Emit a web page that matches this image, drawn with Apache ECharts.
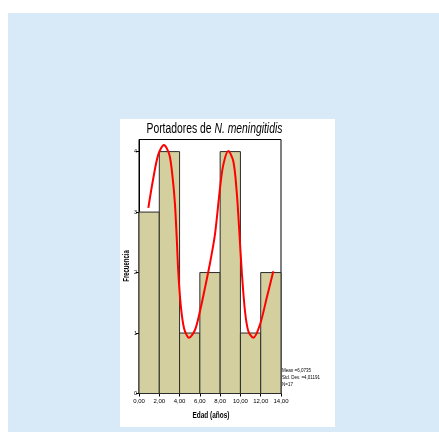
<!DOCTYPE html>
<html>
<head>
<meta charset="utf-8">
<script src="https://cdn.jsdelivr.net/npm/echarts@6/dist/echarts.min.js"></script>
<style>
  html, body { margin: 0; padding: 0; background: #fff; }
  #chart { width: 439px; height: 432px; }
</style>
</head>
<body>
<div id="chart"></div>
<script>
// histogram bins (age in years) and counts
const binStart = [0, 2, 4, 6, 8, 10, 12];
const binEnd = [2, 4, 6, 8, 10, 12, 14];
const counts = [3, 4, 1, 2, 4, 1, 2];

// smoothed red curve
const curveX = [0.92, 1.41, 1.90, 2.46, 2.99, 3.32, 3.55, 3.72, 3.87, 4.11, 4.44, 4.93, 5.52, 6.01, 6.51,
                7.05, 7.49, 7.99, 8.31, 8.80, 9.30, 9.63, 9.89, 10.13, 10.45, 10.78, 11.27, 11.93, 12.59, 13.24];
const curveY = [3.07, 3.56, 3.95, 4.11, 3.95, 3.56, 3.12, 2.57, 2.02, 1.47, 1.08, 0.92, 1.05, 1.36, 1.75,
                2.20, 2.63, 3.40, 3.78, 4.01, 3.84, 3.34, 2.68, 2.02, 1.36, 1.03, 0.92, 1.14, 1.58, 2.02];

const xTickValues = [0, 2, 4, 6, 8, 10, 12, 14];
const xTickLabels = ['0,00', '2,00', '4,00', '6,00', '8,00', '10,00', '12,00', '14,00'];
const yTickLabels = ['0', '1', '2', '3', '4'];

const statsLines = ['Mean =6,0735', 'Std. Dev. =4,01191', 'N=17'];

const chart = echarts.init(document.getElementById('chart'));

const barData = binStart.map((s, i) => [s, binEnd[i], counts[i]]);
const curveData = curveX.map((x, i) => [x, curveY[i]]);

const option = {
    backgroundColor: '#ffffff',
    animation: false,
    graphic: [
        {
            type: 'rect', z: -10, silent: true,
            shape: { x: 8, y: 13, width: 431, height: 419 },
            style: { fill: '#d8e9f8' }
        },
        {
            type: 'rect', z: -9, silent: true,
            shape: { x: 120, y: 119, width: 215, height: 308 },
            style: { fill: '#ffffff' }
        },
        {
            type: 'text', x: 146.5, y: 122, scaleX: 0.74,
            style: {
                text: '{a|Portadores de }{b|N. meningitidis}',
                rich: {
                    a: { fontFamily: 'Liberation Sans', fontSize: 14, fill: '#000' },
                    b: { fontFamily: 'Liberation Sans', fontSize: 14, fontStyle: 'italic', fill: '#000' }
                }
            }
        },
        {
            type: 'text', x: 211, y: 415.5, scaleX: 0.68,
            style: {
                text: 'Edad (años)', fontFamily: 'Liberation Sans', fontSize: 9.5, fontWeight: 'bold',
                fill: '#000', align: 'center', verticalAlign: 'middle'
            }
        },
        {
            type: 'text', x: 127, y: 266, rotation: Math.PI / 2, scaleX: 0.7,
            style: {
                text: 'Frecuencia', fontFamily: 'Liberation Sans', fontSize: 8.5, fontWeight: 'bold',
                fill: '#000', align: 'center', verticalAlign: 'middle'
            }
        },
        {
            type: 'text', x: 282, y: 367, scaleX: 0.75,
            style: {
                text: statsLines.join('\n'), fontFamily: 'Liberation Sans', fontSize: 6,
                lineHeight: 7, fill: '#000'
            }
        }
    ],
    grid: {
        left: 139, top: 139.5, width: 142, height: 254,
        show: true, borderColor: '#000', borderWidth: 1, backgroundColor: 'transparent'
    },
    xAxis: {
        type: 'value', min: 0, max: 14, interval: 2,
        axisLine: { lineStyle: { color: '#000', width: 1 } },
        axisTick: { show: true, length: 3, lineStyle: { color: '#000' } },
        splitLine: { show: false },
        axisLabel: {
            fontFamily: 'Liberation Sans', fontSize: 6, color: '#000', margin: 5,
            formatter: (v) => {
                const i = xTickValues.indexOf(v);
                return i >= 0 ? xTickLabels[i] : '';
            }
        }
    },
    yAxis: {
        type: 'value', min: 0, max: 4.2, interval: 1,
        axisLine: { lineStyle: { color: '#000', width: 1 } },
        axisTick: { show: true, length: 3, lineStyle: { color: '#000' } },
        splitLine: { show: false },
        axisLabel: {
            fontFamily: 'Liberation Sans', fontSize: 5.5, color: '#000', margin: 2,
            showMaxLabel: false,
            formatter: (v) => (Number.isInteger(v) && yTickLabels[v] !== undefined) ? yTickLabels[v] : ''
        }
    },
    series: [
        {
            type: 'custom',
            data: barData,
            encode: { x: [0, 1], y: 2 },
            renderItem: (params, api) => {
                const p0 = api.coord([api.value(0), api.value(2)]);
                const p1 = api.coord([api.value(1), 0]);
                return {
                    type: 'rect',
                    shape: { x: p0[0], y: p0[1], width: p1[0] - p0[0], height: p1[1] - p0[1] },
                    style: { fill: '#d4cf9e', stroke: '#2b2b2b', lineWidth: 1 }
                };
            }
        },
        {
            type: 'line',
            data: curveData,
            smooth: 0.3,
            symbol: 'none',
            lineStyle: { color: '#ff0000', width: 2 },
            z: 5
        }
    ]
};

chart.setOption(option);
</script>
</body>
</html>
